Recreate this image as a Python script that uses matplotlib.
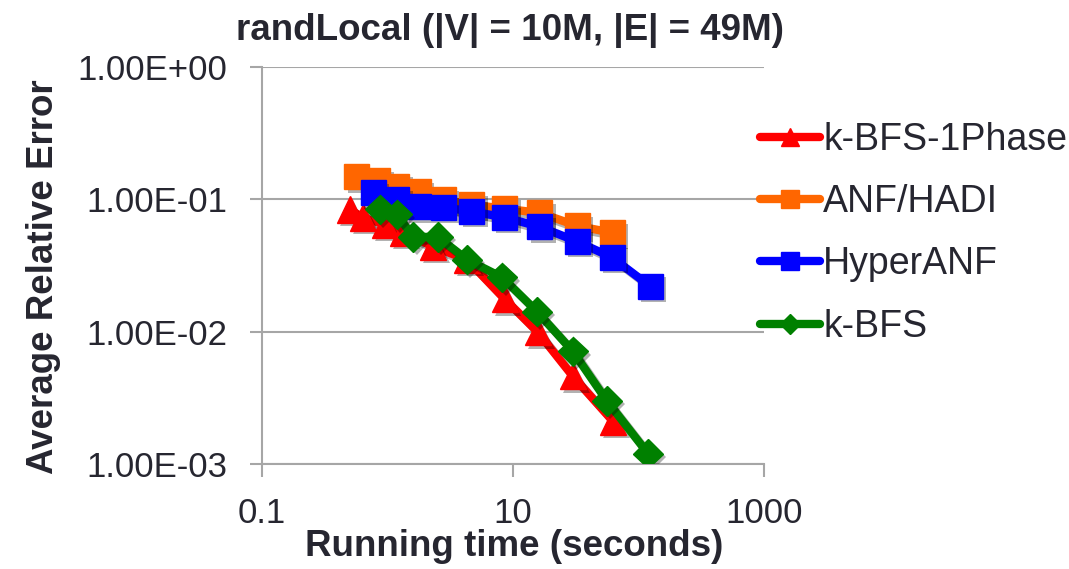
import matplotlib
matplotlib.use("Agg")
import matplotlib.pyplot as plt
import matplotlib.patheffects as pe
from matplotlib.lines import Line2D

plt.rcParams['font.family'] = ['Liberation Sans', 'DejaVu Sans']

title = "randLocal (|V| = 10M, |E| = 49M)"
xlabel = "Running time (seconds)"
ylabel = "Average Relative Error"

series_names = ["k-BFS-1Phase", "ANF/HADI", "HyperANF", "k-BFS"]

kbfs1_x = [0.50, 0.64, 0.955, 1.33, 2.31, 4.3, 8.6, 15.8, 30, 62.7]
kbfs1_y = [0.0836, 0.0728, 0.0645, 0.056, 0.044, 0.035, 0.0176, 0.0099, 0.0046, 0.0021]

anf_x = [0.57, 0.84, 1.19, 1.75, 2.77, 4.71, 8.6, 16.4, 32.4, 61.5]
anf_y = [0.148, 0.138, 0.125, 0.114, 0.0995, 0.091, 0.085, 0.079, 0.063, 0.056]

hyper_x = [0.77, 1.19, 1.75, 2.77, 4.71, 8.6, 16.4, 32.4, 61.5, 124]
hyper_y = [0.112, 0.0995, 0.088, 0.087, 0.081, 0.073, 0.062, 0.048, 0.0364, 0.022]

kbfs_x = [0.87, 1.19, 1.60, 2.52, 4.3, 8.2, 15.5, 30, 56, 119]
kbfs_y = [0.084, 0.077, 0.052, 0.052, 0.035, 0.0257, 0.0142, 0.0071, 0.003, 0.0012]

xticks = [0.1, 10, 1000]
xticklabels = ["0.1", "10", "1000"]
yticks = [1e-3, 1e-2, 1e-1, 1e0]
yticklabels = ["1.00E-03", "1.00E-02", "1.00E-01", "1.00E+00"]

colors = ["#FF0000", "#FF6600", "#0000FF", "#008000"]
markers = ["^", "s", "s", "D"]
msizes = [19, 18, 18, 15]

text_color = "#262630"
grid_color = "#A6A6A6"

fig = plt.figure(figsize=(10.69, 5.69), dpi=100)
ax = fig.add_axes([262/1069, 1-464/569, (764-262)/1069, (464-67)/569])
ax.set_xscale("log")
ax.set_yscale("log")

data = [(kbfs1_x, kbfs1_y), (anf_x, anf_y), (hyper_x, hyper_y), (kbfs_x, kbfs_y)]
handles = []
for i, ((xs, ys), c, m, ms, name) in enumerate(zip(data, colors, markers, msizes, series_names)):
    ax.plot(xs, ys, color=c, lw=6, solid_capstyle='round', solid_joinstyle='round', zorder=3 + 2*i,
            path_effects=[pe.SimpleLineShadow(offset=(2.5, -2.5), alpha=0.3, shadow_color='black'), pe.Normal()])
    ax.plot(xs, ys, linestyle='none', marker=m, markersize=ms, markerfacecolor=c, markeredgecolor=c,
            zorder=4 + 2*i,
            path_effects=[pe.SimplePatchShadow(offset=(2.5, -2.5), alpha=0.3, shadow_rgbFace='black'), pe.Normal()])
    handles.append(Line2D([0], [0], color=c, lw=6, solid_capstyle='round', marker=m,
                          markersize=ms*0.7, markerfacecolor=c, markeredgecolor=c))

ax.set_xlim(0.1, 1000)
ax.set_ylim(1e-3, 1)
ax.set_xticks(xticks)
ax.set_xticklabels(xticklabels)
ax.set_yticks(yticks)
ax.set_yticklabels(yticklabels)
ax.minorticks_off()
ax.tick_params(axis='both', which='major', labelsize=25, labelcolor=text_color,
               color=grid_color, length=9, width=1.5, direction='out')
ax.tick_params(axis='x', pad=15)
ax.tick_params(axis='y', pad=16)

ax.grid(True, axis='y', color=grid_color, lw=1.5)
ax.set_axisbelow(True)
for s in ['top', 'right']:
    ax.spines[s].set_visible(False)
for s in ['left', 'bottom']:
    ax.spines[s].set_color(grid_color)
    ax.spines[s].set_linewidth(1.5)

fig.text(510/1069, 1-31/569, title, ha='center', va='center', fontsize=26.5, fontweight='bold', color=text_color)
fig.text(514/1069, 1-547/569, xlabel, ha='center', va='center', fontsize=26.5, fontweight='bold', color=text_color)
fig.text(44/1069, 1-277/569, ylabel, ha='center', va='center', rotation=90, fontsize=26.5, fontweight='bold', color=text_color)

leg = fig.legend(handles, series_names, loc='upper left', bbox_to_anchor=(760/1069, 1-122/569),
                 frameon=False, fontsize=27, handlelength=1.6, handletextpad=0.08,
                 labelspacing=0.70, borderaxespad=0, borderpad=0)
for t in leg.get_texts():
    t.set_color(text_color)

fig.savefig("out.png", dpi=100)
